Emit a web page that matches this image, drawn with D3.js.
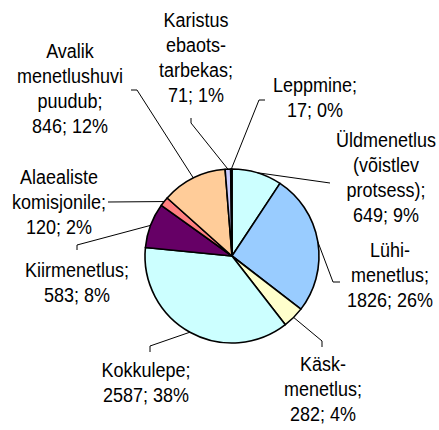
<!DOCTYPE html>
<html lang="et">
<head>
<meta charset="UTF-8">
<title>Menetlusliigid</title>
<script src="https://d3js.org/d3.v7.min.js"></script>
<style>
  body { margin: 0; background: #fff; }
  text { font-family: "Liberation Sans", Arial, sans-serif; fill: #000; }
</style>
</head>
<body>
<svg width="439" height="430"></svg>
<script>
// data (clockwise from 12 o'clock)
const categories = [
  ["Üldmenetlus", "(võistlev", "protsess);"],
  ["Lühi-", "menetlus;"],
  ["Käsk-", "menetlus;"],
  ["Kokkulepe;"],
  ["Kiirmenetlus;"],
  ["Alaealiste", "komisjonile;"],
  ["Avalik", "menetlushuvi", "puudub;"],
  ["Karistus", "ebaots-", "tarbekas;"],
  ["Leppmine;"]
];
const values = [649, 1826, 282, 2587, 583, 120, 846, 71, 17];
const percents = [9, 26, 4, 38, 8, 2, 12, 1, 0];
const colors = ["#CCFFFF", "#99CCFF", "#FFFFCC", "#CCFFFF", "#660066",
                "#FF8080", "#FFCC99", "#CCCCFF", "#000080"];

// label layout: text centre x, first baseline y, and leader elbow points
const labelLayout = [
  { x: 386, y: 147, leader: [[330, 183]] },
  { x: 390, y: 257, leader: [[333, 282], [340, 282]] },
  { x: 323, y: 371, leader: [[322, 341], [322, 347]] },
  { x: 146, y: 377, leader: [[150, 346], [150, 352]] },
  { x: 77,  y: 277, leader: [[77, 245], [77, 250]] },
  { x: 59,  y: 184, leader: [[108, 202]] },
  { x: 70,  y: 58,  leader: [[137, 90], [131, 90]] },
  { x: 196, y: 27,  leader: [[191, 123], [191, 118]] },
  { x: 315, y: 92,  leader: [[259, 100], [265, 100]] }
];

const lineGap = 25;
const cx = 232, cy = 256, radius = 87;

const svg = d3.select("svg");

const pie = d3.pie().sort(null).value(d => d)(values);
const arc = d3.arc().innerRadius(0).outerRadius(radius);

const g = svg.append("g").attr("transform", `translate(${cx},${cy})`);

g.selectAll("path.slice")
  .data(pie)
  .enter().append("path")
  .attr("class", "slice")
  .attr("d", arc)
  .attr("fill", (d, i) => colors[i])
  .attr("stroke", "#000")
  .attr("stroke-width", 1.6)
  .attr("stroke-linejoin", "round");

// leader lines from the middle of each slice edge
pie.forEach((d, i) => {
  const a = (d.startAngle + d.endAngle) / 2;
  const start = [cx + radius * Math.sin(a), cy - radius * Math.cos(a)];
  const pts = [start].concat(labelLayout[i].leader);
  svg.append("path")
    .attr("d", d3.line()(pts))
    .attr("fill", "none")
    .attr("stroke", "#000")
    .attr("stroke-width", 1);
});

// labels
categories.forEach((lines, i) => {
  const all = lines.concat([`${values[i]}; ${percents[i]}%`]);
  const pos = labelLayout[i];
  const t = svg.append("text")
    .attr("text-anchor", "middle")
    .attr("font-size", 18)
    .attr("transform", `translate(${pos.x},${pos.y}) scale(1,1.12)`);
  all.forEach((s, k) => {
    t.append("tspan")
      .attr("x", 0)
      .attr("y", k * lineGap / 1.12)
      .text(s);
  });
});
</script>
</body>
</html>
